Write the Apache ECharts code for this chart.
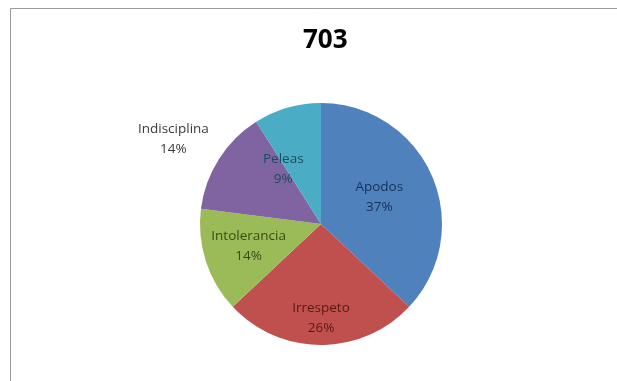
<!DOCTYPE html>
<html>
<head>
<meta charset="utf-8">
<script src="https://cdn.jsdelivr.net/npm/echarts@6/dist/echarts.min.js"></script>
<style>
  html, body { margin: 0; padding: 0; background: #ffffff; overflow: hidden; }
  #chart { width: 617px; height: 381px; }
</style>
</head>
<body>
<div id="chart"></div>
<script>
// Share of incidents by category, group 703
const categories = ['Apodos', 'Irrespeto', 'Intolerancia', 'Indisciplina', 'Peleas'];
const values = [37, 26, 14, 14, 9];

const sliceColors = ['#4F81BD', '#C0504D', '#9BBB59', '#8064A2', '#4BACC6'];
const labelColors = ['#17305A', '#551A18', '#3A4A16', '#3A3A3A', '#1A4C5C'];
// nudges from the default inside anchor, per slice
const labelNudge = [[0, -2], [0, 31], [-12, 3], [-94, -51], [-20, 6]];

const chart = echarts.init(document.getElementById('chart'));
chart.setOption({
  backgroundColor: '#ffffff',
  animation: false,
  title: {
    text: '703',
    left: 298,
    top: 23,
    textStyle: { fontFamily: 'Open Sans', fontWeight: 'bold', fontSize: 26, color: '#000000' }
  },
  graphic: [
    {
      type: 'line',
      shape: { x1: 10.5, y1: 8.5, x2: 700, y2: 8.5 },
      style: { stroke: '#9a9a9a', lineWidth: 1 },
      silent: true
    },
    {
      type: 'line',
      shape: { x1: 10.5, y1: 8.5, x2: 10.5, y2: 460 },
      style: { stroke: '#9a9a9a', lineWidth: 1 },
      silent: true
    }
  ],
  series: [{
    type: 'pie',
    center: [321, 224],
    radius: 121,
    startAngle: 90,
    clockwise: true,
    data: categories.map((name, i) => ({
      name: name,
      value: values[i],
      itemStyle: { color: sliceColors[i] },
      label: { color: labelColors[i] }
    })),
    label: {
      position: 'inside',
      formatter: p => p.name + '\n' + p.value + '%',
      fontFamily: 'Open Sans',
      fontSize: 13.5,
      lineHeight: 20,
      align: 'center'
    },
    labelLine: { show: false },
    labelLayout: p => ({ dx: labelNudge[p.dataIndex][0], dy: labelNudge[p.dataIndex][1] }),
    itemStyle: { borderWidth: 0 },
    emphasis: { disabled: true }
  }]
});
</script>
</body>
</html>
